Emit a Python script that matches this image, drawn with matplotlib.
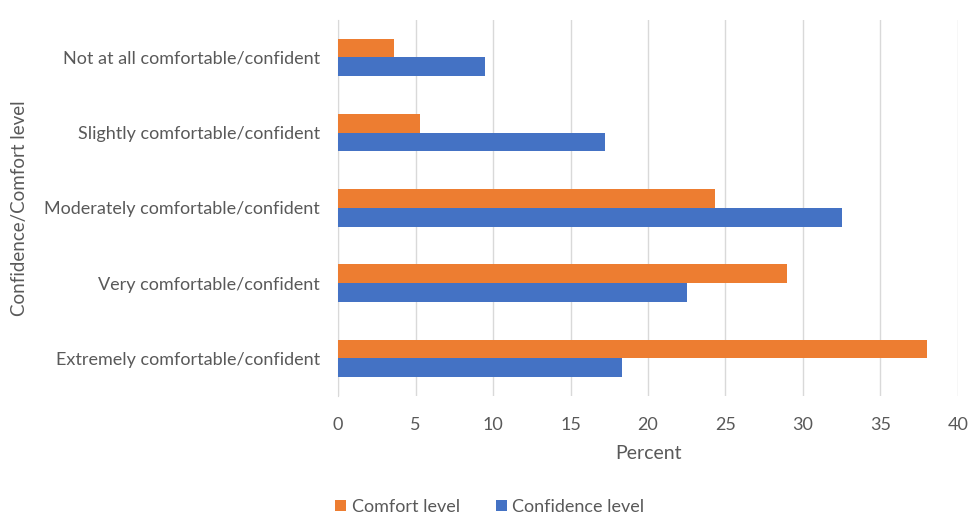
import numpy as np
import matplotlib
matplotlib.use("Agg")
import matplotlib.pyplot as plt

plt.rcParams['font.family'] = ['Lato', 'DejaVu Sans']

categories = ["Not at all comfortable/confident",
              "Slightly comfortable/confident",
              "Moderately comfortable/confident",
              "Very comfortable/confident",
              "Extremely comfortable/confident"]
comfort = [3.6, 5.3, 24.3, 29.0, 38.0]
confidence = [9.5, 17.2, 32.5, 22.5, 18.3]

orange = '#ED7D31'
blue = '#4472C4'
txt = '#595959'

fig = plt.figure(figsize=(9.7, 5.18), dpi=100)
ax = fig.add_axes([0.3485, 0.2355, 0.6391, 0.7265])

y = np.arange(len(categories))
h = 0.25
ax.barh(y - h / 2, comfort, height=h, color=orange, label='Comfort level', zorder=3)
ax.barh(y + h / 2, confidence, height=h, color=blue, label='Confidence level', zorder=3)

ax.set_ylim(-0.5, len(categories) - 0.5)
ax.invert_yaxis()
ax.set_xlim(0, 40)
ax.set_xticks(np.arange(0, 41, 5))
ax.set_yticks(y)
ax.set_yticklabels(categories)

ax.grid(axis='x', color='#d9d9d9', linewidth=1, zorder=0)
for s in ['top', 'right', 'bottom']:
    ax.spines[s].set_visible(False)
ax.spines['left'].set_color('#d9d9d9')

ax.tick_params(axis='x', length=0, pad=15, labelsize=13, labelcolor=txt)
ax.tick_params(axis='y', length=0, pad=13, labelsize=13, labelcolor=txt)

ax.set_xlabel('Percent', fontsize=14, color=txt, labelpad=9)
ax.set_ylabel('Confidence/Comfort level', fontsize=13.5, color=txt, labelpad=12)

fig.legend(loc='lower center', bbox_to_anchor=(0.505, -0.025), ncol=2, frameon=False,
           fontsize=13, labelcolor=txt, handlelength=0.6, handleheight=0.6,
           handletextpad=0.3, columnspacing=2.0)

fig.savefig('out.png', dpi=100)
